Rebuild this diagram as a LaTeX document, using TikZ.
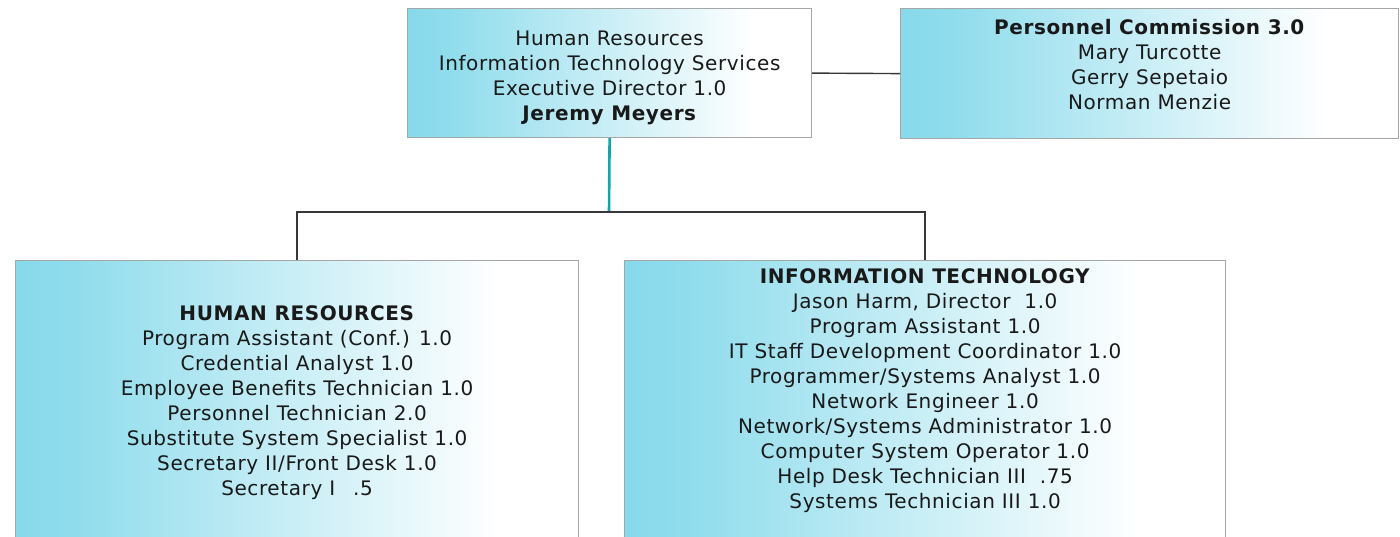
\documentclass[tikz,border=0pt]{standalone}
\usepackage{fontspec}
\setmainfont[LetterSpace=3]{DejaVu Sans}
\usetikzlibrary{positioning}
\definecolor{boxcyan}{RGB}{95,205,228}
\definecolor{stemteal}{RGB}{20,165,170}
\definecolor{linegray}{RGB}{55,55,55}
\pgfdeclarehorizontalshading{cyanfade}{100bp}{color(0bp)=(boxcyan); color(30bp)=(boxcyan!70!white); color(68bp)=(white); color(100bp)=(white)}

\begin{document}
\begin{tikzpicture}[x=0.5pt,y=-0.5pt,
	orgbox/.style={draw=gray!70, line width=0.6pt, shade, shading=cyanfade, inner sep=0pt, anchor=north west},
	orgtext/.style={align=center, anchor=north, inner sep=0pt, text=black!90, font=\fontsize{10}{12.5}\selectfont},
	link/.style={draw=linegray, line width=0.7pt},
	stem/.style={draw=stemteal, line width=1.3pt}]
		%\draw [help lines] (0,0) grid (1400,536);
		\useasboundingbox (0,0) rectangle (1400,536);
		\clip (0,0) rectangle (1400,536);
		%top row
		\node [orgbox, minimum width=202pt, minimum height=64.5pt] (topbox) at (407,8) {};
		\node [orgbox, minimum width=249pt, minimum height=65pt] (pcbox) at (900,8) {};
		%bottom row
		\node [orgbox, minimum width=281.5pt, minimum height=150pt] (hrbox) at (15,260) {};
		\node [orgbox, minimum width=300.5pt, minimum height=150pt] (itbox) at (624,260) {};
		%texts
		\node [orgtext] (toptext) at ([yshift=-11.5pt]topbox.north) {Human Resources\\Information Technology Services\\Executive Director 1.0\\\textbf{Jeremy Meyers}};
		\node [orgtext] (pctext) at ([yshift=-5.5pt]pcbox.north) {\textbf{Personnel Commission 3.0}\\Mary Turcotte\\Gerry Sepetaio\\Norman Menzie};
		\node [orgtext] (hrtext) at ([yshift=-22.5pt]hrbox.north) {\textbf{HUMAN RESOURCES}\\Program Assistant (Conf.) 1.0\\Credential Analyst 1.0\\Employee Benefits Technician 1.0\\Personnel Technician 2.0\\Substitute System Specialist 1.0\\Secretary II/Front Desk 1.0\\Secretary I\hspace{0.9em}.5};
		\node [orgtext] (ittext) at ([yshift=-4pt]itbox.north) {\textbf{INFORMATION TECHNOLOGY}\\Jason Harm, Director~ 1.0\\Program Assistant 1.0\\IT Staff Development Coordinator 1.0\\Programmer/Systems Analyst 1.0\\Network Engineer 1.0\\Network/Systems Administrator 1.0\\Computer System Operator 1.0\\Help Desk Technician III~ .75\\Systems Technician III 1.0};
		%connectors
		\coordinate (fork) at (609,212);
		\draw [link] (topbox.east) -- (pcbox.west);
		\draw [stem] (topbox.south) -- (fork);
		\draw [link] (hrbox.north) |- (fork) -| (itbox.north);
\end{tikzpicture}
\end{document}
